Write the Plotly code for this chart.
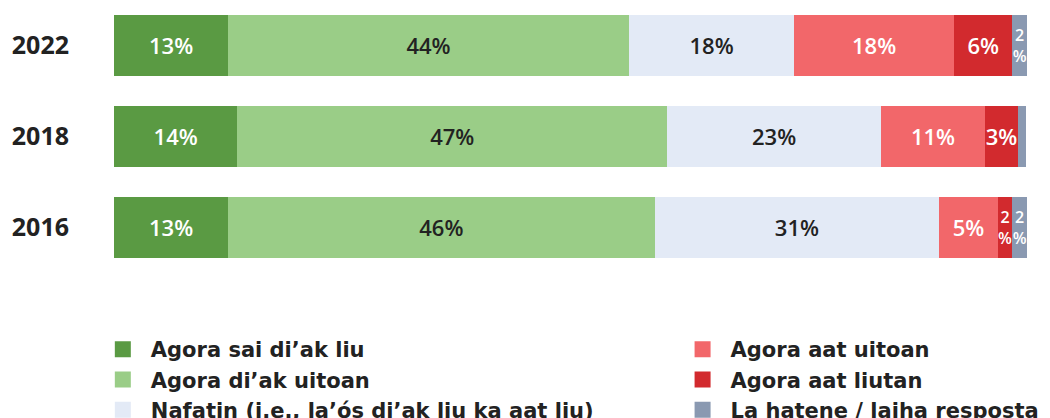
import plotly.graph_objects as go

years = ["2022", "2018", "2016"]
series_names = [
    "Agora sai di’ak liu",
    "Agora di’ak uitoan",
    "Nafatin (i.e., la’ós di’ak liu ka aat liu)",
    "Agora aat uitoan",
    "Agora aat liutan",
    "La hatene / laiha resposta",
]
colors = ["#5a9a43", "#9acd87", "#e3eaf6", "#f2676a", "#d22a2e", "#8a99b1"]
text_colors = ["white", "#222222", "#222222", "white", "white", "white"]

# values per series, order: 2022, 2018, 2016
v_sai_diak = [12.5, 13.5, 12.5]
v_diak = [43.9, 47.1, 46.7]
v_nafatin = [18.1, 23.4, 31.2]
v_aat = [17.5, 11.4, 6.4]
v_aat_liu = [6.4, 3.6, 1.6]
v_lahatene = [1.6, 0.9, 1.6]
values = [v_sai_diak, v_diak, v_nafatin, v_aat, v_aat_liu, v_lahatene]

# printed labels
l_sai_diak = ["13%", "14%", "13%"]
l_diak = ["44%", "47%", "46%"]
l_nafatin = ["18%", "23%", "31%"]
l_aat = ["18%", "11%", "5%"]
l_aat_liu = ["6%", "3%", "2<br>%"]
l_lahatene = ["2<br>%", "", "2<br>%"]
labels = [l_sai_diak, l_diak, l_nafatin, l_aat, l_aat_liu, l_lahatene]

FONT = "Open Sans"
LEGFONT = "DejaVu Sans"

fig = go.Figure()
for i, name in enumerate(series_names):
    sizes = [16 if "<br>" in t else 22 for t in labels[i]]
    fig.add_trace(go.Bar(
        y=years, x=values[i], orientation="h", name=name,
        marker=dict(color=colors[i], line=dict(width=0)),
        text=labels[i], textposition="inside", insidetextanchor="middle",
        constraintext="none", textangle=0, cliponaxis=False,
        textfont=dict(color=text_colors[i], size=sizes, family=FONT, weight=600),
        showlegend=False, hoverinfo="skip",
    ))

for i, name in enumerate(series_names):
    fig.add_trace(go.Scatter(
        x=[None], y=[None], mode="markers", name=name,
        marker=dict(symbol="square", size=19, color=colors[i]),
        legend="legend" if i < 3 else "legend2",
    ))

legfont = dict(size=21, family=LEGFONT, color="#222222", weight=700)
fig.update_layout(
    barmode="stack",
    bargap=0.33,
    width=1050, height=418,
    margin=dict(l=106, r=31, t=0, b=145, autoexpand=False),
    plot_bgcolor="white", paper_bgcolor="white",
    font=dict(family=FONT, color="#222222"),
    xaxis=dict(range=[0, 100], visible=False, fixedrange=True),
    yaxis=dict(categoryorder="array", categoryarray=years[::-1],
               range=[-0.588, 2.412],
               tickfont=dict(size=25, family=FONT, color="#222222", weight=700),
               ticks="", ticklabelstandoff=44, showgrid=False, zeroline=False,
               showline=False, automargin=False),
    legend=dict(x=-0.021, y=-0.176, xanchor="left", yanchor="top",
                orientation="v", bgcolor="rgba(0,0,0,0)", traceorder="normal",
                font=legfont, itemwidth=46,
                itemsizing="trace", tracegroupgap=0),
    legend2=dict(x=0.614, y=-0.176, xanchor="left", yanchor="top",
                 orientation="v", bgcolor="rgba(0,0,0,0)", traceorder="normal",
                 font=legfont, itemwidth=46,
                 itemsizing="trace", tracegroupgap=0),
)

fig.write_html("out.html")
